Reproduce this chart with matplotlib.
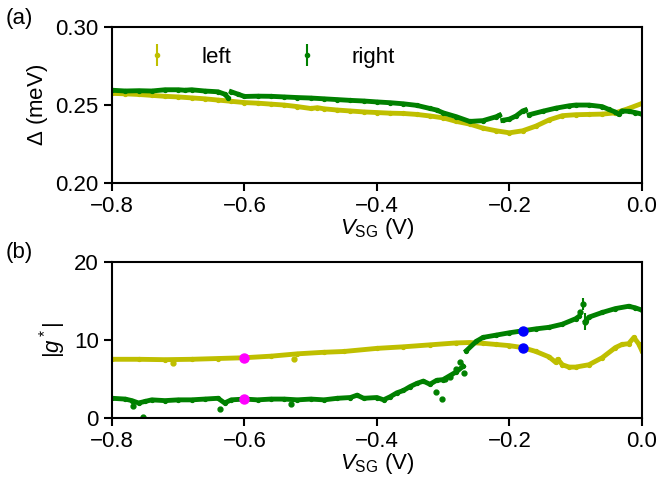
#!/usr/bin/env python
"""
Superconducting gap and g-factor vs side gate voltage
"""
import numpy as np
import matplotlib.pyplot as plt

plt.rcParams['font.family'] = ['Liberation Sans', 'DejaVu Sans']
plt.rcParams['mathtext.fontset'] = 'custom'
plt.rcParams['mathtext.rm'] = 'Liberation Sans'
plt.rcParams['mathtext.it'] = 'Liberation Sans:italic'
plt.rcParams['font.size'] = 16

nan = np.nan

# (a) gap, left lead
gap_left_v = [-0.80, -0.78, -0.76, -0.74, -0.72, -0.70, -0.68, -0.66, -0.64, -0.62,
              -0.60, -0.58, -0.56, -0.54, -0.52, -0.50, -0.49, -0.48, -0.46, -0.44,
              -0.42, -0.40, -0.38, -0.36, -0.34, -0.32, -0.30, -0.28, -0.26, -0.24,
              -0.22, -0.20, -0.18, -0.16, -0.14, -0.12, -0.10, -0.08, -0.06, -0.04,
              -0.02, 0.00]
gap_left = [0.2575, 0.2572, 0.2568, 0.2562, 0.2556, 0.2552, 0.2546, 0.2540, 0.2532, 0.2524,
            0.2516, 0.2512, 0.2506, 0.2500, 0.2490, 0.2478, 0.2483, 0.2476, 0.2468, 0.2462,
            0.2456, 0.2452, 0.2448, 0.2446, 0.2440, 0.2430, 0.2418, 0.2395, 0.2378, 0.2352,
            0.2335, 0.2322, 0.2335, 0.2365, 0.2405, 0.2432, 0.2438, 0.2440, 0.2442, 0.2450,
            0.2478, 0.2510]

# (a) gap, right lead (nan = gap in the trace)
gap_right_v = [-0.80, -0.78, -0.76, -0.74, -0.72, -0.70, -0.69, -0.68, -0.66, -0.64,
               -0.63, -0.625, -0.622, -0.62, -0.61, -0.60, -0.58, -0.56, -0.54, -0.52,
               -0.50, -0.48, -0.46, -0.44, -0.42, -0.40, -0.38, -0.36, -0.34, -0.32,
               -0.31, -0.30, -0.28, -0.26, -0.24, -0.22, -0.215, -0.212, -0.21, -0.20,
               -0.19, -0.18, -0.176, -0.174, -0.17, -0.15, -0.13, -0.11, -0.10, -0.08,
               -0.06, -0.05, -0.04, -0.035, -0.03, -0.02, -0.01, 0.00]
gap_right = [0.2595, 0.2590, 0.2592, 0.2590, 0.2598, 0.2598, 0.2595, 0.2598, 0.2590, 0.2585,
             0.2570, 0.2548, nan, 0.2585, 0.2570, 0.2555, 0.2557, 0.2556, 0.2552, 0.2548,
             0.2545, 0.2540, 0.2535, 0.2530, 0.2526, 0.2520, 0.2515, 0.2508, 0.2498, 0.2478,
             0.2468, 0.2450, 0.2425, 0.2395, 0.2400, 0.2425, 0.2435, nan, 0.2402, 0.2410,
             0.2430, 0.2462, 0.2468, nan, 0.2438, 0.2460, 0.2480, 0.2495, 0.2500, 0.2500,
             0.2490, 0.2472, 0.2455, 0.2440, 0.2462, 0.2460, 0.2452, 0.2442]

# (b) g-factor, left lead
g_left_v = [-0.80, -0.76, -0.72, -0.68, -0.64, -0.60, -0.56, -0.52, -0.48, -0.45,
            -0.40, -0.36, -0.32, -0.28, -0.26, -0.24, -0.22, -0.20, -0.18, -0.16,
            -0.14, -0.13, -0.127, -0.12, -0.11, -0.10, -0.08, -0.06, -0.04, -0.03,
            -0.02, -0.012, -0.005, 0.00]
g_left = [7.5, 7.5, 7.45, 7.5, 7.6, 7.7, 7.9, 8.2, 8.4, 8.5,
          8.9, 9.1, 9.35, 9.6, 9.65, 9.55, 9.4, 9.25, 9.0, 8.5,
          7.8, 7.1, 7.5, 6.8, 6.5, 6.5, 6.8, 7.7, 9.0, 9.4,
          9.5, 10.3, 9.5, 8.6]
g_left_out_v = [-0.708, -0.525]
g_left_out = [7.05, 7.5]

# (b) g-factor, right lead
g_right_v = [-0.80, -0.78, -0.77, -0.76, -0.75, -0.74, -0.72, -0.70, -0.68, -0.66,
             -0.64, -0.63, -0.62, -0.60, -0.58, -0.56, -0.54, -0.52, -0.50, -0.48,
             -0.46, -0.44, -0.43, -0.42, -0.40, -0.39, -0.38, -0.37, -0.36, -0.35,
             -0.34, -0.33, -0.32, -0.31, -0.30, -0.29, -0.28, -0.27, -0.267, -0.265,
             -0.25, -0.24, -0.22, -0.20, -0.18, -0.16, -0.14, -0.12, -0.10, -0.095,
             -0.09, -0.085, -0.08, -0.06, -0.04, -0.02, -0.01, 0.00]
g_right = [2.5, 2.4, 2.2, 1.9, 2.1, 2.3, 2.2, 2.3, 2.3, 2.4,
           2.5, 1.9, 2.3, 2.4, 2.3, 2.4, 2.4, 2.3, 2.4, 2.3,
           2.5, 2.6, 2.9, 2.5, 2.6, 2.3, 2.7, 3.2, 3.5, 4.0,
           4.4, 4.7, 4.3, 4.8, 4.9, 5.4, 5.9, 6.6, nan, 8.6,
           9.8, 10.3, 10.6, 10.9, 11.15, 11.4, 11.6, 12.0, 12.7, 13.0,
           nan, 12.4, 12.9, 13.5, 14.0, 14.3, 14.1, 13.8]
g_right_out_v = [-0.768, -0.753, -0.637, -0.53, -0.311, -0.302, -0.298, -0.29, -0.28, -0.275, -0.268]
g_right_out = [1.5, 0.1, 1.1, 1.8, 3.3, 2.4, 5.0, 5.2, 6.3, 7.1, 5.8]
g_right_err_v = [-0.093, -0.089, -0.086]
g_right_err = [13.6, 14.6, 12.3]
g_right_err_e = [0.2, 0.8, 1.1]

# highlighted points
mark_v = [-0.6, -0.18]
mark_left = [7.7, 8.97]
mark_right = [2.45, 11.15]
mark_col = ['#ff00ff', '#0000ff']

cy, cg = '#bfbf00', '#008000'

fig = plt.figure(figsize=(6.59, 4.83), dpi=100)
ax1 = fig.add_axes([0.170, 0.621, 0.804, 0.323])
ax2 = fig.add_axes([0.170, 0.135, 0.804, 0.323])

# (a)
ax1.plot(gap_left_v, gap_left, '-', color=cy, lw=3.5, marker='o', ms=2.8)
ax1.plot(gap_right_v, gap_right, '-', color=cg, lw=3.5, marker='o', ms=2.8)
ax1.errorbar([], [], yerr=[], fmt='o', color=cy, ms=3, elinewidth=1.5, label='left')
ax1.errorbar([], [], yerr=[], fmt='o', color=cg, ms=3, elinewidth=1.5, label='right')
ax1.set_ylim(0.20, 0.30)
ax1.set_yticks([0.20, 0.25, 0.30])
ax1.set_ylabel(r'$\Delta$ (meV)')
ax1.legend(ncol=2, frameon=False, loc='upper left', bbox_to_anchor=(0.005, 1.0),
           handlelength=2.0, columnspacing=2.4, handletextpad=1.0)

# (b)
ax2.plot(g_left_v, g_left, '-', color=cy, lw=3.5, marker='o', ms=2.8)
ax2.plot(g_left_out_v, g_left_out, 'o', color=cy, ms=3.5)
ax2.plot(g_right_v, g_right, '-', color=cg, lw=3.5, marker='o', ms=2.8)
ax2.plot(g_right_out_v, g_right_out, 'o', color=cg, ms=3.5)
ax2.errorbar(g_right_err_v, g_right_err, yerr=g_right_err_e, fmt='o', color=cg,
             ms=3.5, elinewidth=1.5)
for v, yl, yr, c in zip(mark_v, mark_left, mark_right, mark_col):
    ax2.plot([v, v], [yl, yr], 'o', color=c, ms=6.5, zorder=5)
ax2.set_ylim(0, 20)
ax2.set_yticks([0, 10, 20])
ax2.set_ylabel(r'$|g^*|$')

for ax in (ax1, ax2):
    ax.set_xlim(-0.8, 0.0)
    ax.set_xticks([-0.8, -0.6, -0.4, -0.2, 0.0])
    ax.set_xlabel(r'$V_{\mathrm{SG}}$ (V)', labelpad=-1)
    ax.tick_params(width=1.5, length=6)
    for s in ax.spines.values():
        s.set_linewidth(1.5)

fig.text(0.008, 0.950, '(a)')
fig.text(0.008, 0.465, '(b)')

fig.savefig('out.png')
